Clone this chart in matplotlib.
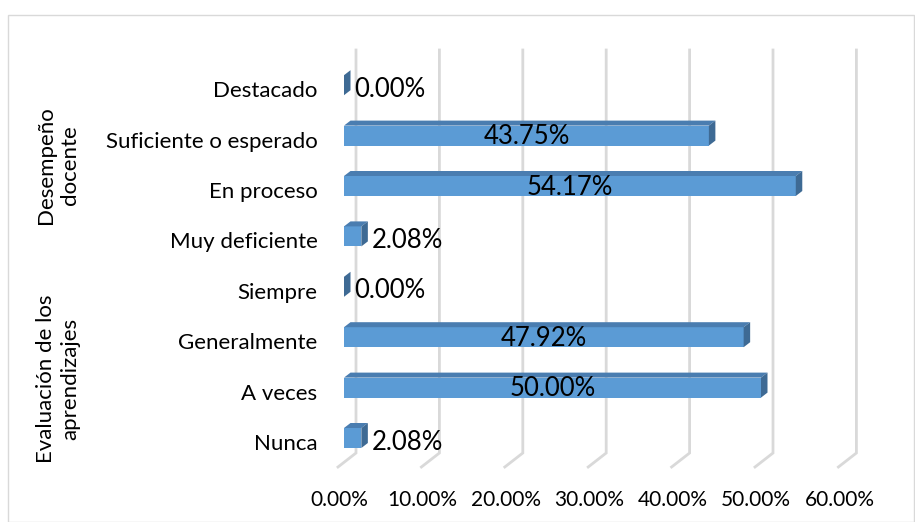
import matplotlib
matplotlib.use("Agg")
import numpy as np
from matplotlib import pyplot as plt
from matplotlib.patches import Polygon, Rectangle
from matplotlib.transforms import ScaledTranslation

plt.rcParams['font.family'] = ['Lato', 'DejaVu Sans']

# data (top to bottom as in the chart)
categories = ["Destacado", "Suficiente o esperado", "En proceso", "Muy deficiente",
              "Siempre", "Generalmente", "A veces", "Nunca"]
values = [0.00, 43.75, 54.17, 2.08, 0.00, 47.92, 50.00, 2.08]
groups = ["Desempeño\ndocente", "Evaluación de los\naprendizajes"]
xticks = [0, 10, 20, 30, 40, 50, 60]

W, H = 915, 522
fig = plt.figure(figsize=(W / 100, H / 100), dpi=100)

# axes box in pixels
x0, x1, ytop, ybot = 330, 900, 40, 480
ax = fig.add_axes([x0 / W, (H - ybot) / H, (x1 - x0) / W, (ybot - ytop) / H])
pxx = 8.34     # px per percent
pxy = 50.4     # px per category
zero_px, first_px = 344, 442
ax.set_xlim((x0 - zero_px) / pxx, (x1 - zero_px) / pxx)
ax.set_ylim((first_px - ybot) / pxy, (first_px - ytop) / pxy)
for s in ax.spines.values():
    s.set_visible(False)

n = len(categories)
ypos = np.arange(n)[::-1]   # Destacado at top

# 3d-ish gridlines: back wall + floor
grid_c = '#D9D9D9'
back_dx = 12 / pxx
floor_top = (first_px - 453) / pxy
floor_bot = (first_px - 467) / pxy
wall_top = (first_px - 50) / pxy
for t in xticks:
    ax.plot([t + back_dx, t + back_dx, t - 6 / pxx], [wall_top, floor_top, floor_bot],
            color=grid_c, lw=2, solid_joinstyle='miter', zorder=1)

# bars
front_c, top_c, side_c = '#5B9BD5', '#4A7DB0', '#3E6A94'
up = 14 / pxy
down = 6 / pxy
ddx = 6.5 / pxx
ddy = 5 / pxy
ax.barh(ypos + (up - down) / 2, values, height=up + down, left=0,
        color=front_c, edgecolor='none', zorder=3)
for y, v in zip(ypos, values):
    top = [(0, y + up), (v, y + up), (v + ddx, y + up + ddy), (ddx, y + up + ddy)]
    side = [(v, y - down), (v, y + up), (v + ddx, y + up + ddy), (v + ddx, y - down + ddy)]
    ax.add_patch(Polygon(top, closed=True, color=top_c, lw=0, zorder=3))
    ax.add_patch(Polygon(side, closed=True, color=side_c, lw=0, zorder=3))
    if v > 10:
        ax.text(v / 2, y + 3 / pxy, f"{v:.2f}%", ha='center', va='center',
                fontsize=18.5, color='black', zorder=5)
    else:
        ax.text(v + 1.2, y, f"{v:.2f}%", ha='left', va='center',
                fontsize=18.5, color='black', zorder=5)

ax.set_yticks(ypos)
ax.set_yticklabels(categories, fontsize=16)
ax.tick_params(axis='y', length=0, pad=9)
ax.set_xticks(xticks)
ax.set_xticklabels([f"{t:.2f}%" for t in xticks], fontsize=15)
ax.tick_params(axis='x', length=0, pad=7)
shift = ScaledTranslation(-5 / 100, 0, fig.dpi_scale_trans)
for lab in ax.get_xticklabels():
    lab.set_transform(lab.get_transform() + shift)

# group labels
fig.text(58 / W, 1 - 165 / H, groups[0], rotation=90, ha='center', va='center',
         fontsize=16, linespacing=1.25)
fig.text(58 / W, 1 - 379 / H, groups[1], rotation=90, ha='center', va='center',
         fontsize=16, linespacing=1.25)

# chart frame
fig.patches.append(Rectangle((8 / W, 0), (W - 9) / W, 1 - 15 / H, transform=fig.transFigure,
                             fill=False, edgecolor='#D9D9D9', lw=1))

fig.savefig('out.png', dpi=100)
